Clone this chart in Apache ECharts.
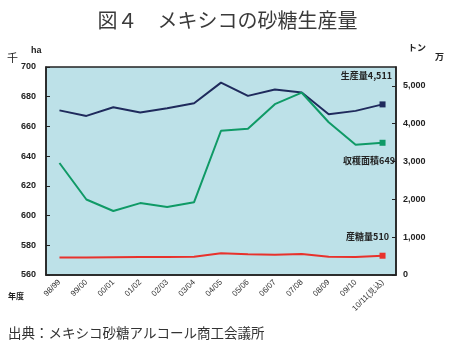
<!DOCTYPE html>
<html><head><meta charset="utf-8">
<script src="https://cdn.jsdelivr.net/npm/echarts@6/dist/echarts.min.js"></script>
<style>html,body{margin:0;padding:0;background:#fff}#c{width:455px;height:349px}</style>
</head><body><div id="c"></div>
<script>
const categories = ['98/99','99/00','00/01','01/02','02/03','03/04','04/05','05/06','06/07','07/08','08/09','09/10','10/11(見込)'];
const production = [4353, 4207, 4437, 4295, 4410, 4543, 5088, 4736, 4903, 4824, 4252, 4340, 4511];   // right axis
const area = [635.4, 610.8, 603.1, 608.4, 605.8, 609.0, 657.1, 658.5, 675.0, 682.7, 662.8, 647.7, 649];  // 千ha left axis
const consumption = [465, 465, 472, 476, 476, 483, 578, 548, 538, 556, 484, 476, 510]; // right axis
const leftTicks = {min: 560, max: 700, interval: 20};
const rightTicks = {min: 0, max: 5500, interval: 1000};

const chart = echarts.init(document.getElementById('c'), null, {renderer: 'canvas'});
const F = '"Liberation Sans", Arial, sans-serif';
const J = '"Noto Sans CJK JP", sans-serif';
const lastOnly = (arr) => arr.map((v, i) => i === arr.length - 1 ? {value: v, symbol: 'rect', symbolSize: 6} : {value: v, symbol: 'none'});
chart.setOption({
  animation: false,
  title: {text: '図４　メキシコの砂糖生産量', left: 'center', top: 5,
    textStyle: {fontFamily: J, fontSize: 20, fontWeight: 'normal', color: '#3a3a3a'}},
  grid: {left: 46, right: 59, top: 67, bottom: 74, show: true, backgroundColor: '#bde1e8', borderColor: '#222', borderWidth: 1.5},
  xAxis: [{
    type: 'category', data: categories, boundaryGap: true,
    axisLine: {lineStyle: {color: '#222', width: 1.5}},
    axisTick: {inside: true, length: 4, lineStyle: {color: '#222'}},
    axisLabel: {rotate: 45, fontSize: 8, fontFamily: F, color: '#333', margin: 6, interval: 0}
  }, {
    type: 'category', data: categories, boundaryGap: true, position: 'bottom',
    axisLine: {show: false},
    axisTick: {inside: true, length: 4, alignWithLabel: true, lineStyle: {color: '#222'}},
    axisLabel: {show: false}
  }],
  yAxis: [{
    type: 'value', min: leftTicks.min, max: leftTicks.max, interval: leftTicks.interval,
    axisLine: {show: true, lineStyle: {color: '#222', width: 1.5}},
    axisTick: {show: true, inside: true, length: 4, lineStyle: {color: '#222'}},
    splitLine: {show: false},
    axisLabel: {fontSize: 9, fontFamily: F, color: '#222', fontWeight: 'bold', margin: 10}
  }, {
    type: 'value', min: rightTicks.min, max: rightTicks.max, interval: rightTicks.interval,
    axisLine: {show: true, lineStyle: {color: '#222', width: 1.5}},
    axisTick: {show: true, inside: true, length: 4, lineStyle: {color: '#222'}},
    splitLine: {show: false},
    axisLabel: {showMaxLabel: false, fontSize: 9, fontFamily: F, color: '#222', fontWeight: 'bold', margin: 7,
      formatter: v => v > 5000 ? '' : v.toLocaleString('en-US')}
  }],
  series: [
    {name: '生産量', type: 'line', yAxisIndex: 1, data: lastOnly(production),
      lineStyle: {color: '#1f2a5c', width: 2}, itemStyle: {color: '#1f2a5c'}},
    {name: '収穫面積', type: 'line', yAxisIndex: 0, data: lastOnly(area),
      lineStyle: {color: '#0f9a66', width: 2}, itemStyle: {color: '#0f9a66'}},
    {name: '産糖量', type: 'line', yAxisIndex: 1, data: lastOnly(consumption),
      lineStyle: {color: '#e8322c', width: 2}, itemStyle: {color: '#e8322c'}}
  ],
  graphic: [
    {type: 'text', left: 8, top: 326, style: {text: '出典：メキシコ砂糖アルコール商工会議所', font: '13.5px ' + J, fill: '#333'}},
    {type: 'text', left: 7, top: 52, style: {text: '千', font: '11px ' + J, fill: '#222'}},
    {type: 'text', left: 31, top: 46, style: {text: 'ha', font: 'bold 9px ' + F, fill: '#222'}},
    {type: 'text', left: 408, top: 43, style: {text: 'トン', font: 'bold 9px ' + J, fill: '#222'}},
    {type: 'text', left: 435, top: 52, style: {text: '万', font: 'bold 9px ' + J, fill: '#222'}},
    {type: 'text', left: 8, top: 292, style: {text: '年度', font: 'bold 8px ' + J, fill: '#222'}},
    {type: 'text', right: 63, top: 71, style: {text: '生産量4,511', font: 'bold 9px ' + J, fill: '#222', align: 'right'}},
    {type: 'text', right: 60, top: 156, style: {text: '収穫面積649', font: 'bold 9px ' + J, fill: '#222', align: 'right'}},
    {type: 'text', right: 66, top: 232, style: {text: '産糖量510', font: 'bold 9px ' + J, fill: '#222', align: 'right'}}
  ]
});
</script></body></html>
